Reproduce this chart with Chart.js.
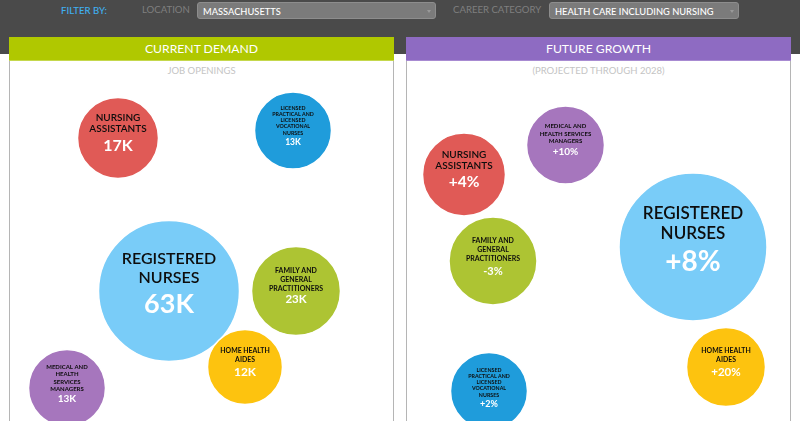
<!DOCTYPE html>
<html>
<head>
<meta charset="utf-8">
<script src="https://cdn.jsdelivr.net/npm/chart.js@4/dist/chart.umd.min.js"></script>
<style>
  html, body { margin: 0; padding: 0; width: 800px; height: 421px; overflow: hidden; background: #fff; font-family: Lato, sans-serif; }
  #top { position: absolute; left: 0; top: 0; width: 800px; height: 54px; background: #4a4a4a; }
  .lbl { position: absolute; top: 3px; font-size: 9.6px; line-height: 14px; color: #7f7f7f; white-space: nowrap; }
  .sel { position: absolute; top: 2px; height: 17px; box-sizing: border-box; background: #7b7b7b; border: 1px solid #8d8d8d; border-radius: 3px; color: #fff; font-size: 9.3px; font-weight: 500; line-height: 17px; padding-left: 5px; white-space: nowrap; }
  .sel:after { content: ""; position: absolute; right: 4px; top: 7px; border: 2px solid transparent; border-top: 3px solid #999; }
  .panel { position: absolute; top: 37px; width: 385px; height: 420px; box-sizing: border-box; background: #fff; border-left: 1px solid #b5b5b5; border-right: 1px solid #b5b5b5; }
  .panel h2 { margin: 0 -1px; height: 24px; box-sizing: border-box; color: #fff; font-size: 12.2px; font-weight: 400; line-height: 24px; text-align: center; }
  .panel p { margin: 0; font-size: 9.5px; line-height: 20px; height: 20px; text-align: center; color: #c4c4c4; }
  canvas { position: absolute; left: 0; top: 0; }
</style>
</head>
<body>
<div id="top">
  <div class="lbl" style="left:61px;top:4px;color:#3fb0f0;font-weight:500;">FILTER BY:</div>
  <div class="lbl" style="left:142px;">LOCATION</div>
  <div class="sel" style="left:197px;width:239px;">MASSACHUSETTS</div>
  <div class="lbl" style="left:453px;">CAREER CATEGORY</div>
  <div class="sel" style="left:549px;width:190px;">HEALTH CARE INCLUDING NURSING</div>
</div>
<div class="panel" style="left:9px;">
  <h2 style="background:#b0c800;border-bottom:1px solid #c5d84d;">CURRENT DEMAND</h2>
  <p>JOB OPENINGS</p>
  <canvas id="demand" width="383" height="384"></canvas>
</div>
<div class="panel" style="left:406px;">
  <h2 style="background:#8e6bc2;border-bottom:1px solid #a88bd2;">FUTURE GROWTH</h2>
  <p>(PROJECTED THROUGH 2028)</p>
  <canvas id="growth" width="383" height="384"></canvas>
</div>

<script>
// Donnees
const demandNames = [
  ["NURSING", "ASSISTANTS"],
  ["LICENSED", "PRACTICAL AND", "LICENSED", "VOCATIONAL", "NURSES"],
  ["REGISTERED", "NURSES"],
  ["FAMILY AND", "GENERAL", "PRACTITIONERS"],
  ["MEDICAL AND", "HEALTH", "SERVICES", "MANAGERS"],
  ["HOME HEALTH", "AIDES"]
];
const demandValues = [17, 13, 63, 23, 13, 12];
const demandText = ["17K", "13K", "63K", "23K", "13K", "12K"];
const demandX = [108, 283, 159, 286, 57, 235];
const demandY = [101, 93.5, 254, 254, 351, 330];
const demandSize = [40.5, 38.5, 70.5, 44.5, 38.5, 37.5];
const demandColors = ["#e05a56", "#1f9cdb", "#79ccf8", "#adc433", "#a676bd", "#fdc30f"];
// [taille nom, taille valeur, interligne, decalage nom, decalage valeur]
const demandFonts = [
  [10, 16, 11, -20, 8],
  [5.3, 8.5, 6.2, -22.5, 11.5],
  [16, 27, 19, -32, 13],
  [7, 11.5, 9, -20, 8.5],
  [6, 10, 7.5, -21, 11],
  [6.9, 12, 8.7, -16, 5]
];

const growthNames = [
  ["NURSING", "ASSISTANTS"],
  ["MEDICAL AND", "HEALTH SERVICES", "MANAGERS"],
  ["REGISTERED", "NURSES"],
  ["FAMILY AND", "GENERAL", "PRACTITIONERS"],
  ["HOME HEALTH", "AIDES"],
  ["LICENSED", "PRACTICAL AND", "LICENSED", "VOCATIONAL", "NURSES"]
];
const growthValues = [4, 10, 8, -3, 20, 2];
const growthText = ["+4%", "+10%", "+8%", "-3%", "+20%", "+2%"];
const growthX = [57, 158.5, 286, 86, 319, 82];
const growthY = [137.5, 108, 210, 224, 330, 354];
const growthSize = [41.5, 39, 74, 44, 39.5, 38.5];
const growthColors = ["#e05a56", "#a676bd", "#79ccf8", "#adc433", "#fdc30f", "#1f9cdb"];
const growthFonts = [
  [10, 15.5, 11, -19.5, 7.5],
  [6, 10, 7.7, -19, 7],
  [17, 28, 20, -33, 15],
  [7, 11, 9, -20, 10],
  [6.9, 11.5, 8.7, -16, 5],
  [5.3, 9, 6.2, -21, 13]
];

// Ecrit le nom et la valeur au centre de chaque bulle
const bubbleLabels = {
  id: "bubbleLabels",
  afterDatasetsDraw(chart, args, opts) {
    const ctx = chart.ctx;
    const points = chart.getDatasetMeta(0).data;
    ctx.save();
    ctx.textAlign = "center";
    ctx.textBaseline = "middle";
    points.forEach((pt, i) => {
      const [nameSize, valueSize, lineH, nameDy, valueDy] = opts.fonts[i];
      ctx.fillStyle = "#0d0d0d";
      ctx.font = (nameSize < 9 ? "700 " : "600 ") + nameSize + "px Lato, sans-serif";
      opts.names[i].forEach((line, n) => {
        ctx.fillText(line, pt.x, pt.y + nameDy + n * lineH);
      });
      ctx.fillStyle = "#ffffff";
      ctx.font = "700 " + valueSize + "px Lato, sans-serif";
      ctx.fillText(opts.text[i], pt.x, pt.y + valueDy);
    });
    ctx.restore();
  }
};

function dessinerBulles(id, label, values, xs, ys, sizes, colors, names, text, fonts) {
  new Chart(document.getElementById(id), {
    type: "bubble",
    data: {
      datasets: [{
        label: label,
        data: values.map((v, i) => ({ x: xs[i], y: ys[i], r: sizes[i], value: v })),
        backgroundColor: colors,
        borderColor: "#ffffff",
        borderWidth: 1.5,
        hoverRadius: 0,
        clip: false
      }]
    },
    plugins: [bubbleLabels],
    options: {
      responsive: false,
      animation: false,
      layout: { padding: 0, autoPadding: false },
      scales: {
        x: { type: "linear", min: 0, max: 383, display: false },
        y: { type: "linear", min: 0, max: 384, reverse: true, display: false }
      },
      plugins: {
        legend: { display: false },
        tooltip: { enabled: false },
        bubbleLabels: { names: names, text: text, fonts: fonts }
      }
    }
  });
}

dessinerBulles("demand", "Job openings (thousands)", demandValues, demandX, demandY, demandSize, demandColors, demandNames, demandText, demandFonts);
dessinerBulles("growth", "Projected growth (%)", growthValues, growthX, growthY, growthSize, growthColors, growthNames, growthText, growthFonts);
</script>
</body>
</html>
